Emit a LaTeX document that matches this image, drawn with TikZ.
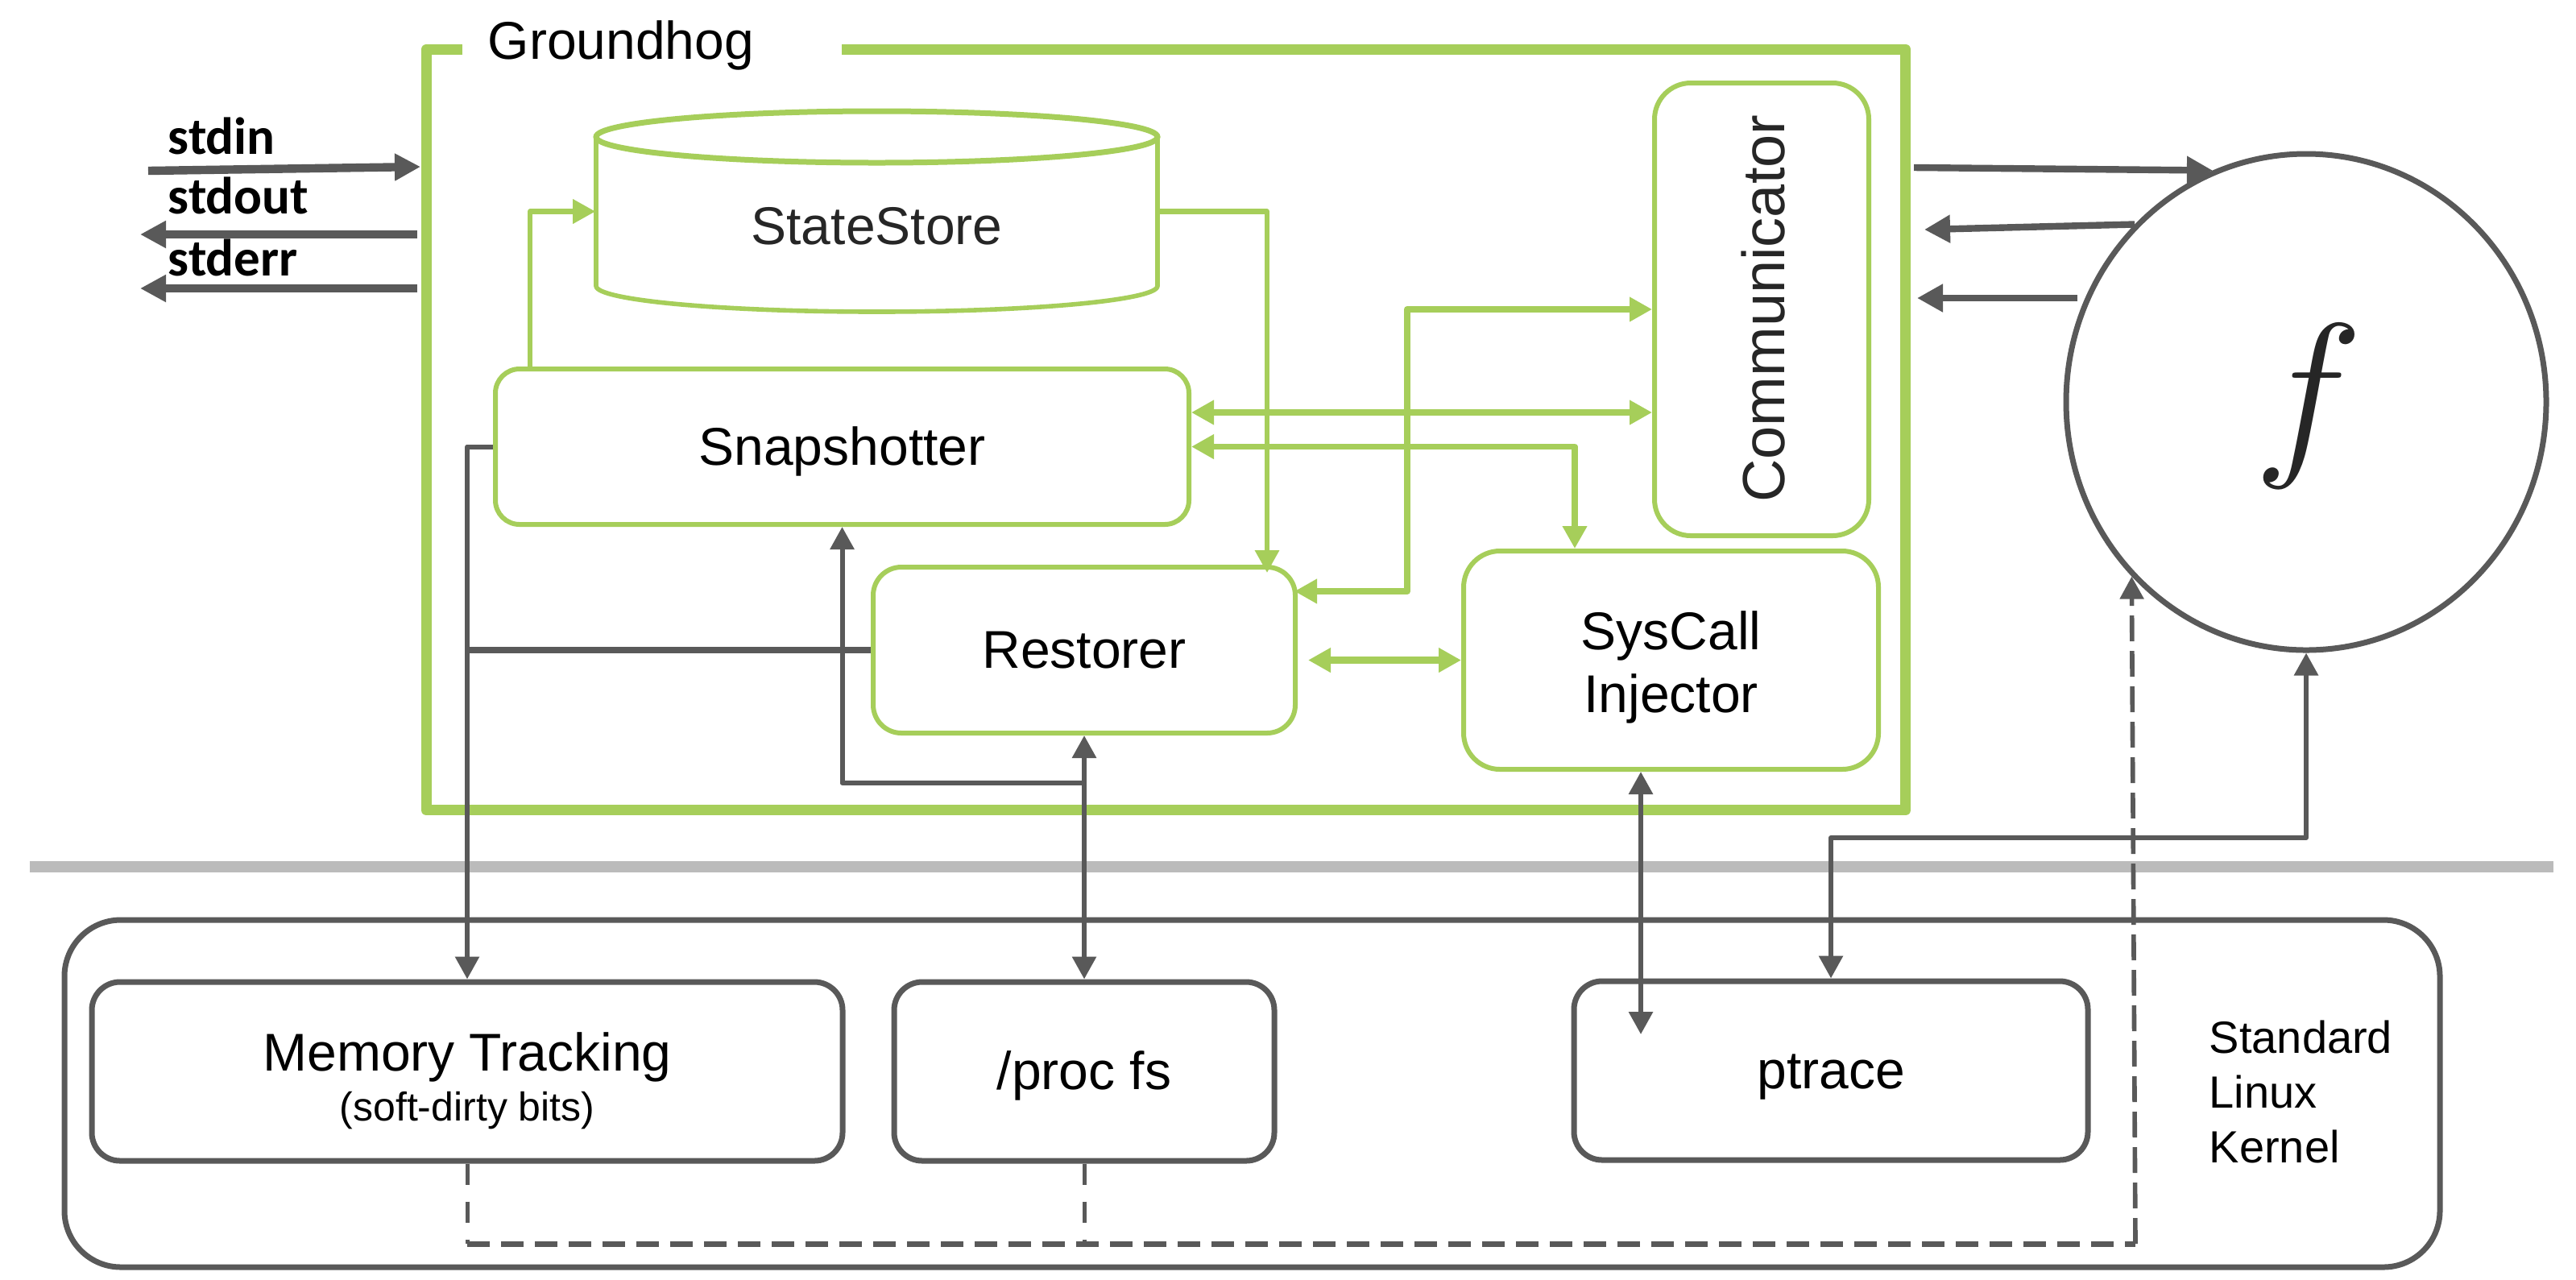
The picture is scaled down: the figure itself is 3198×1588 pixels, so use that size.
\documentclass[tikz,border=0pt]{standalone}
\usepackage{fontspec}
\setmainfont{Liberation Sans}
\newfontfamily\calfont{Carlito}
\usetikzlibrary{arrows.meta,shapes.geometric,calc}
\definecolor{ghgreen}{RGB}{166,206,90}
\definecolor{dgray}{RGB}{89,89,89}
\definecolor{sepgray}{RGB}{187,187,187}
\definecolor{txt}{RGB}{38,38,38}
\begin{document}
\begin{tikzpicture}[x=0.25pt,y=-0.25pt,
  gbox/.style={draw=ghgreen, line width=1.5pt, rounded corners=7.5pt, inner sep=0pt,
    font=\fontsize{16.5}{19.5}\selectfont, align=center},
  kbox/.style={draw=dgray, line width=1.75pt, rounded corners=8.75pt, inner sep=0pt,
    font=\fontsize{16.5}{19.5}\selectfont, align=center},
  oneline/.style={text height=14.9pt, text depth=3.5pt},
  garr/.style={draw=ghgreen, line width=1.6pt, line join=round, >={Triangle[length=7pt,width=7.25pt]}},
  iarr/.style={draw=dgray, line width=1.5pt, line join=round, >={Triangle[length=7pt,width=7.25pt]}},
  farr/.style={draw=dgray, line width=2.1pt, >={Triangle[length=8pt,width=8.25pt]}},
  stdarr/.style={draw=dgray, line width=2.6pt, >={Triangle[length=8pt,width=8pt]}},
  stdlbl/.style={anchor=base west, inner sep=0pt, font=\calfont\fontsize{16.25}{18}\selectfont\bfseries},
  plain/.style={inner sep=0pt, font=\fontsize{16.5}{19.5}\selectfont}
]
\fill[white] (0,0) rectangle (3198,1588);
\useasboundingbox (0,0) rectangle (3198,1588);

% separator
\draw[sepgray, line width=3.5pt] (37,1076) -- (3170,1076);

% Groundhog container
\node[minimum width=458.75pt, minimum height=235.75pt, inner sep=0pt] (gh) at (1447.5,533.5) {};
\draw[ghgreen, line width=3.25pt, line join=round]
  ([xshift=11.25pt]gh.north west) -- (gh.north west) -- (gh.south west) -- (gh.south east)
  -- (gh.north east) -- ([xshift=129pt]gh.north west);
\node[anchor=base west, inner sep=0pt, font=\fontsize{16.5}{19.5}\selectfont] (ghlabel) at (605,73) {Groundhog};

% StateStore cylinder
\node[minimum width=174.25pt, minimum height=62.25pt, inner sep=0pt] (store) at (1088.5,262.5) {};
\draw[ghgreen, line width=1.4pt] (740,170) -- (740,355)
  arc[start angle=180, end angle=360, x radius=87.125pt, y radius=8pt] -- (1437,170);
\draw[ghgreen, line width=1.75pt] (1088.5,170) ellipse [x radius=87.125pt, y radius=8pt];
\node[plain, text=txt] (storetxt) at (1088.5,281) {StateStore};

% Green boxes
\node[gbox, oneline, minimum width=215.25pt, minimum height=48.25pt] (snap) at (1045.5,554.5) {Snapshotter};
\node[gbox, oneline, rounded corners=8.75pt, minimum width=131pt, minimum height=51.5pt] (rest) at (1346,807) {Restorer};
\node[gbox, rounded corners=11.25pt, minimum width=128.75pt, minimum height=67.75pt] (sys) at (2074.5,819.5) {};
\node[plain, align=center] (systxt) at (2074.5,828) {SysCall\\Injector};
\node[gbox, rounded corners=11.25pt, minimum width=66.5pt, minimum height=140.5pt] (comm) at (2187,384) {};
\node[rotate=90, inner sep=0pt, text=txt, font=\fontsize{18.5}{20}\selectfont] (commtxt) at (2189,383) {Communicator};

% f circle
\node[draw=dgray, line width=1.75pt, ellipse, minimum width=149pt, minimum height=154pt, inner sep=0pt] (f) at (2863,499) {};
\node[inner sep=0pt, text=txt] (ftxt) at (2866,504) {\scalebox{2.3}{\Huge$f$}};

% Kernel
\node[kbox, rounded corners=17.5pt, minimum width=737.25pt, minimum height=107.75pt] (kern) at (1554.5,1357.5) {};
\node[kbox, minimum width=233pt, minimum height=55.5pt] (mem) at (580,1330) {};
\node[plain, align=center, font=\fontsize{16.5}{15.5}\selectfont] (memtxt) at (580,1342)
  {Memory Tracking\\{\fontsize{12.5}{15.5}\selectfont (soft-dirty bits)}};
\node[kbox, oneline, minimum width=118pt, minimum height=55.5pt] (proc) at (1346,1330) {/proc fs};
\node[kbox, oneline, minimum width=159.5pt, minimum height=55.5pt] (ptr) at (2273,1329) {ptrace};
\node[anchor=north west, inner sep=0pt, align=left, font=\fontsize{14}{17}\selectfont] (lk) at (2742,1266) {Standard\\Linux\\Kernel};

% stdin / stdout / stderr
\coordinate (in0) at (184,212);  \coordinate (in1) at (522,207);
\coordinate (out0) at (518,291); \coordinate (out1) at (174,291);
\coordinate (err0) at (518,358); \coordinate (err1) at (174,358);
\draw[stdarr,->] (in0) -- (in1);
\draw[stdarr,->] (out0) -- (out1);
\draw[stdarr,->] (err0) -- (err1);
\node[stdlbl] (lin) at (208,191) {stdin};
\node[stdlbl] (lout) at (208,265) {stdout};
\node[stdlbl] (lerr) at (208,342) {stderr};

% Groundhog <-> f
\coordinate (go1) at (2376,208);
\coordinate (gi2) at (2389,285);
\coordinate (fo3) at (2579,370); \coordinate (gi3) at (2380,370);
\draw[farr,->] (go1) -- (f.112);
\draw[farr,->] (f.134) -- (gi2);
\draw[farr,->] (fo3) -- (gi3);

% green connectors
\draw[garr,->] ([xshift=11.5pt]snap.north west) |- (store.west);
\draw[garr,->] (store.east) -| ([shift={(-38,10)}]rest.north east);
\draw[garr,line width=2pt,<->] ([shift={(-1pt,18.25pt)}]rest.east) -| ([xshift=-76pt]comm.west) -- (comm.west);
\draw[garr,line width=2.1pt,<->] ([yshift=10.625pt]snap.east) -- ([yshift=10.625pt]snap.east -| comm.west);
\draw[garr,line width=1.9pt,<->] (snap.east) -| ([xshift=-29.875pt]sys.north);
\draw[garr,line width=2.1pt,<->,shorten <=3.25pt] (rest.east |- sys.west) -- (sys.west);

% gray internal connectors
\draw[iarr,->] (snap.west) -| (mem.north);
\draw[iarr,line width=2pt] (rest.west) -- (rest.west -| mem.north);
\draw[iarr,<->] (proc.north) -- (rest.south);
\coordinate (br) at (1346,972);
\draw[iarr,->] (br) -| (snap.south);
\coordinate (ptin) at (2037,1284);
\draw[iarr,<->] (sys.south -| ptin) -- (ptin);
\coordinate (pk) at (2273,1040);
\draw[iarr,<->] (ptr.north) -- (pk) -| (f.south);

% dashed feedback
\coordinate (dl) at (580,1544); \coordinate (dp) at (1346,1544); \coordinate (dr) at (2651,1544);
\draw[dgray, line width=1.25pt, dash pattern=on 6.5pt off 5.25pt] (mem.south) -- (dl);
\draw[dgray, line width=1.25pt, dash pattern=on 6.5pt off 5.25pt] (proc.south) -- (dp);
\draw[dgray, line width=1.75pt, dash pattern=on 7pt off 3.5pt] (dl) -- (dr);
\draw[iarr, line width=1.4pt, dash pattern=on 8pt off 3pt, ->] (dr) -- (f.225.6);
\end{tikzpicture}
\end{document}
